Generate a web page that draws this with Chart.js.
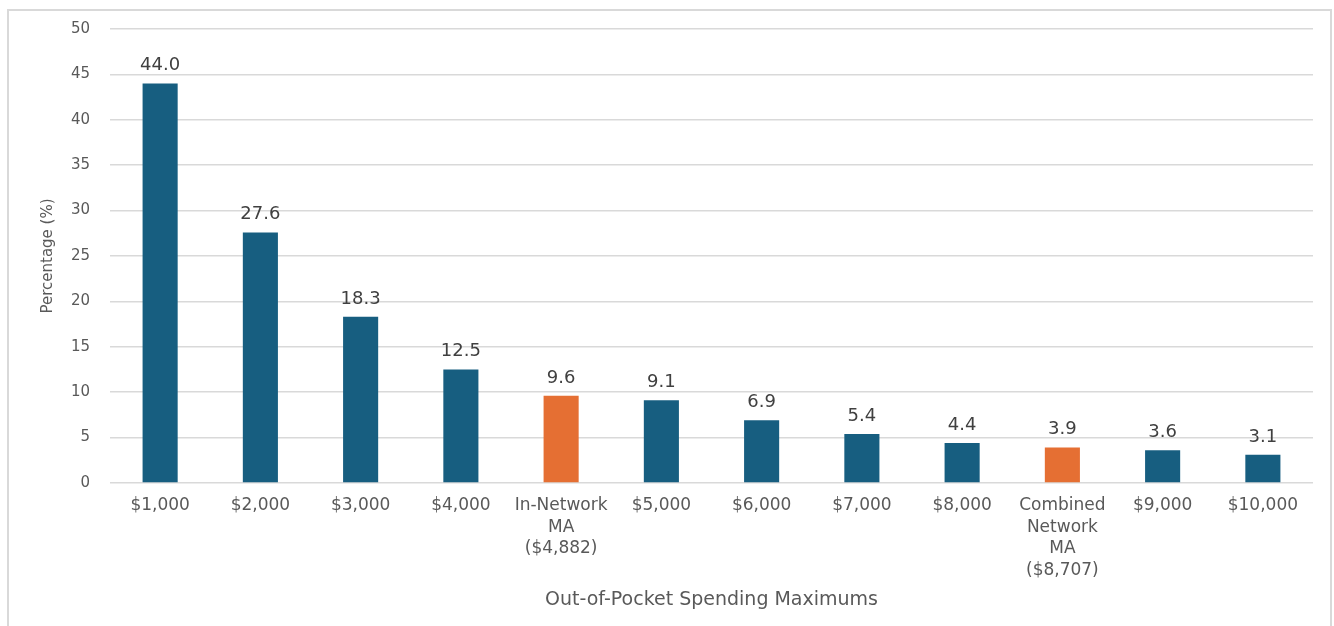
<!DOCTYPE html>
<html>
<head>
<meta charset="utf-8">
<script src="https://cdn.jsdelivr.net/npm/chart.js@4/dist/chart.umd.min.js"></script>
<style>
  html, body { margin: 0; padding: 0; background: #fff; }
  .frame { position: absolute; left: 7px; top: 9px; width: 1325px; height: 640px; border: 2px solid #d9d9d9; box-sizing: border-box; }
  .grafico { position: absolute; left: 0; top: 0; width: 1334px; height: 626px; }
</style>
</head>
<body>
<div class="frame"></div>
<div class="grafico"><canvas id="chart"></canvas></div>
<script>
const categories = [
  "$1,000", "$2,000", "$3,000", "$4,000",
  ["In-Network", "MA", "($4,882)"],
  "$5,000", "$6,000", "$7,000", "$8,000",
  ["Combined", "Network", "MA", "($8,707)"],
  "$9,000", "$10,000"
];
const percentages = [44.0, 27.6, 18.3, 12.5, 9.6, 9.1, 6.9, 5.4, 4.4, 3.9, 3.6, 3.1];
// MA benchmarks get highlighted in orange
const isMA = [false, false, false, false, true, false, false, false, false, true, false, false];
const yTicks = [0, 5, 10, 15, 20, 25, 30, 35, 40, 45, 50];

const BLUE = "#175e80";
const ORANGE = "#e56f33";
const FONT = "'DejaVu Sans', Arial, sans-serif";

// writes the value above each bar
const valueLabels = {
  id: "valueLabels",
  afterDatasetsDraw(chart) {
    const ctx = chart.ctx;
    const meta = chart.getDatasetMeta(0);
    ctx.save();
    ctx.font = "18px " + FONT;
    ctx.fillStyle = "#404040";
    ctx.textAlign = "center";
    ctx.textBaseline = "bottom";
    meta.data.forEach((bar, i) => {
      ctx.fillText(percentages[i].toFixed(1), bar.x, bar.y - 9);
    });
    ctx.restore();
  }
};

new Chart(document.getElementById("chart").getContext("2d"), {
  type: "bar",
  data: {
    labels: categories,
    datasets: [{
      data: percentages,
      backgroundColor: isMA.map(m => m ? ORANGE : BLUE),
      barPercentage: 0.35,
      categoryPercentage: 1.0
    }]
  },
  options: {
    responsive: true,
    maintainAspectRatio: false,
    animation: false,
    layout: { padding: { top: 20, right: 21, left: 0, bottom: 0 } },
    plugins: {
      legend: { display: false },
      tooltip: { enabled: false }
    },
    scales: {
      x: {
        grid: { display: false, drawTicks: false },
        border: { display: false },
        ticks: {
          color: "#595959",
          font: { family: FONT, size: 17, lineHeight: 1.27 },
          padding: 12,
          maxRotation: 0,
          autoSkip: false
        },
        title: {
          display: true,
          text: "Out-of-Pocket Spending Maximums",
          color: "#595959",
          font: { family: FONT, size: 19 },
          padding: { top: 0, bottom: 15 }
        },
        afterFit(scale) { scale.height = 143; }
      },
      y: {
        min: 0,
        max: 50,
        afterBuildTicks(scale) { scale.ticks = yTicks.map(v => ({ value: v })); },
        grid: { color: "#d9d9d9", lineWidth: 1.5, drawTicks: false },
        border: { display: false },
        ticks: {
          color: "#595959",
          font: { family: FONT, size: 15 },
          padding: 20
        },
        title: {
          display: true,
          text: "Percentage (%)",
          color: "#595959",
          font: { family: FONT, size: 15 },
          padding: { top: 39, bottom: 0 }
        },
        afterFit(scale) { scale.width = 110; }
      }
    }
  },
  plugins: [valueLabels]
});
</script>
</body>
</html>
